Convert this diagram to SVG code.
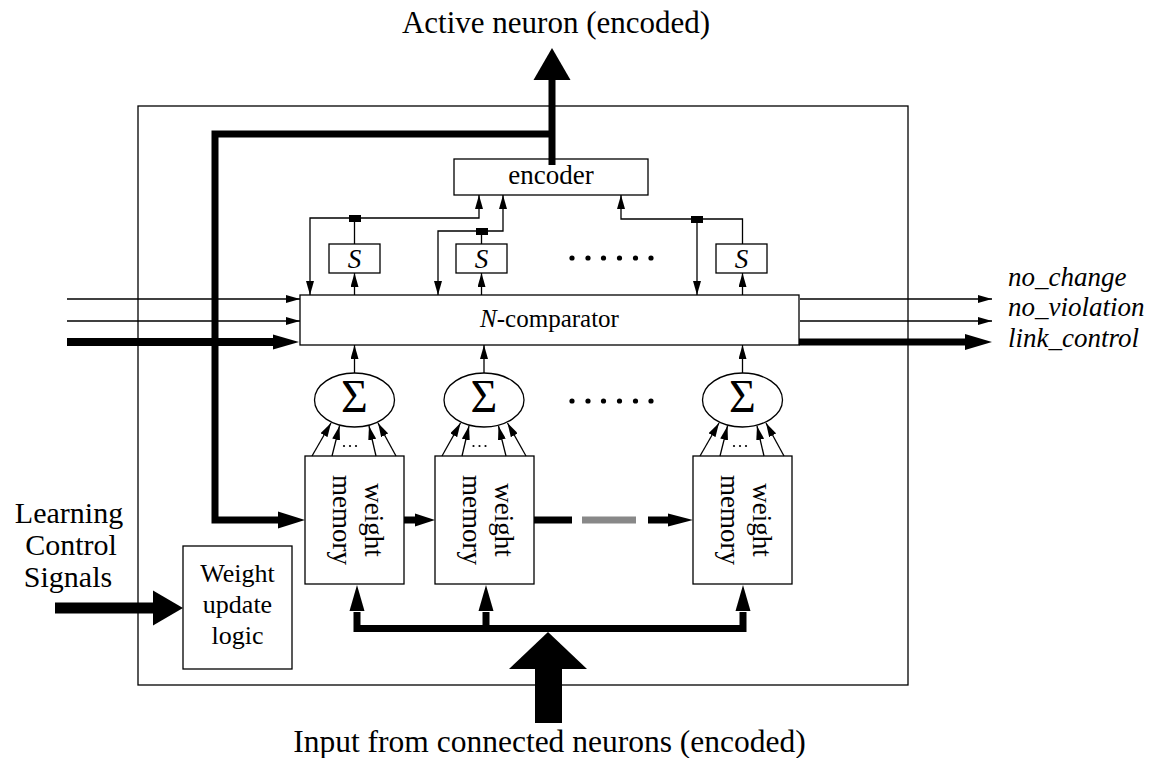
<svg xmlns="http://www.w3.org/2000/svg" width="1174" height="758" viewBox="0 0 1174 758">
<style>
.box{fill:#fff;stroke:#000;stroke-width:1.3}
.frame{fill:none;stroke:#000;stroke-width:1.3}
.thin{fill:none;stroke:#000;stroke-width:1.3}
.thick{fill:none;stroke:#000;stroke-width:7;stroke-linejoin:miter;stroke-linecap:butt}
.head{fill:#000;stroke:none}
.t{font-family:"Liberation Serif","Times New Roman",serif;fill:#000}
.it{font-style:italic}
.dot{fill:#000}
</style>
<defs>
<marker id="a" markerUnits="userSpaceOnUse" markerWidth="14" markerHeight="8" refX="14" refY="4" orient="auto">
<path d="M0,0 L14,4 L0,8 z" fill="#000"/>
</marker>
</defs>

<rect id="outer" class="frame" x="138" y="106" width="770" height="579"/>

<g id="encoder"><rect class="box" x="454" y="159" width="194" height="36"/><text class="t" x="551" y="184" font-size="27" text-anchor="middle">encoder</text></g>
<g id="s1"><rect class="box" x="329" y="244" width="51" height="29"/><text class="t it" x="354.5" y="268" font-size="27" text-anchor="middle">S</text></g>
<g id="s2"><rect class="box" x="456" y="244" width="51" height="29"/><text class="t it" x="481.5" y="268" font-size="27" text-anchor="middle">S</text></g>
<g id="s3"><rect class="box" x="716" y="244" width="51" height="29"/><text class="t it" x="741.5" y="268" font-size="27" text-anchor="middle">S</text></g>
<g id="dots-top"><circle class="dot" cx="572" cy="258" r="2.6"/><circle class="dot" cx="588" cy="258" r="2.6"/><circle class="dot" cx="603.5" cy="258" r="2.6"/><circle class="dot" cx="619.5" cy="258" r="2.6"/><circle class="dot" cx="635.5" cy="258" r="2.6"/><circle class="dot" cx="651" cy="258" r="2.6"/></g>
<g id="comparator"><rect class="box" x="300" y="295" width="499" height="50"/><text class="t" x="549.5" y="327" font-size="25" text-anchor="middle"><tspan class="it">N</tspan>-comparator</text></g>
<g id="sum1"><ellipse class="box" cx="354.5" cy="400" rx="40" ry="27"/><text class="t" x="354.5" y="412" font-size="46" text-anchor="middle">Σ</text></g>
<g id="sum2"><ellipse class="box" cx="484" cy="400" rx="40" ry="27"/><text class="t" x="484" y="412" font-size="46" text-anchor="middle">Σ</text></g>
<g id="sum3"><ellipse class="box" cx="742.5" cy="400" rx="40" ry="27"/><text class="t" x="742.5" y="412" font-size="46" text-anchor="middle">Σ</text></g>
<g id="dots-mid"><circle class="dot" cx="572" cy="401" r="2.6"/><circle class="dot" cx="588" cy="401" r="2.6"/><circle class="dot" cx="603.5" cy="401" r="2.6"/><circle class="dot" cx="619.5" cy="401" r="2.6"/><circle class="dot" cx="635.5" cy="401" r="2.6"/><circle class="dot" cx="651" cy="401" r="2.6"/></g>
<g id="wm1"><rect class="box" x="305" y="456" width="99" height="128"/><g transform="translate(354.5,520) rotate(90)"><text class="t" x="0" y="-10" font-size="27" text-anchor="middle">weight</text><text class="t" x="0" y="22" font-size="27" text-anchor="middle">memory</text></g></g>
<g id="wm2"><rect class="box" x="435" y="456" width="99" height="128"/><g transform="translate(484.5,520) rotate(90)"><text class="t" x="0" y="-10" font-size="27" text-anchor="middle">weight</text><text class="t" x="0" y="22" font-size="27" text-anchor="middle">memory</text></g></g>
<g id="wm3"><rect class="box" x="693" y="456" width="99" height="128"/><g transform="translate(742.5,520) rotate(90)"><text class="t" x="0" y="-10" font-size="27" text-anchor="middle">weight</text><text class="t" x="0" y="22" font-size="27" text-anchor="middle">memory</text></g></g>
<g id="wul"><rect class="box" x="183" y="546" width="109" height="123"/><text class="t" x="237.5" y="582" font-size="26" text-anchor="middle">Weight</text><text class="t" x="237.5" y="613" font-size="26" text-anchor="middle">update</text><text class="t" x="237.5" y="644" font-size="26" text-anchor="middle">logic</text></g>

<g id="connectors">
<path class="thin" d="M67,299 H300" marker-end="url(#a)"/>
<path class="thin" d="M67,321 H300" marker-end="url(#a)"/>
<path class="thin" d="M800,299 H992" marker-end="url(#a)"/>
<path class="thin" d="M800,321 H992" marker-end="url(#a)"/>
<path class="thin" d="M354.5,295 V273" marker-end="url(#a)"/>
<path class="thin" d="M354.5,244 V218"/>
<path class="thin" d="M354.5,218 H310 V295" marker-end="url(#a)"/>
<path class="thin" d="M354.5,218 H479 V195" marker-end="url(#a)"/>
<path class="thin" d="M481.5,295 V273" marker-end="url(#a)"/>
<path class="thin" d="M481.5,244 V231"/>
<path class="thin" d="M481.5,231 H438 V295" marker-end="url(#a)"/>
<path class="thin" d="M481.5,231 H503 V195" marker-end="url(#a)"/>
<path class="thin" d="M742.5,295 V273" marker-end="url(#a)"/>
<path class="thin" d="M742.5,244 V219 H697"/>
<path class="thin" d="M697,219 H621 V195" marker-end="url(#a)"/>
<path class="thin" d="M697,219 V295" marker-end="url(#a)"/>
<rect class="head" x="349" y="215" width="12" height="7"/>
<rect class="head" x="476" y="228" width="12" height="7"/>
<rect class="head" x="691" y="216" width="12" height="7"/>
<path class="thin" d="M354.5,373 V345" marker-end="url(#a)"/>
<path class="thin" d="M484,373 V345" marker-end="url(#a)"/>
<path class="thin" d="M742.5,373 V345" marker-end="url(#a)"/>
<g id="fan1"><path class="thin" d="M312,456 L331,423" marker-end="url(#a)"/><path class="thin" d="M332,456 L339.5,426" marker-end="url(#a)"/><path class="thin" d="M376,456 L369,426" marker-end="url(#a)"/><path class="thin" d="M396,456 L378,423" marker-end="url(#a)"/><circle class="dot" cx="344" cy="446" r="1.1"/><circle class="dot" cx="350" cy="446" r="1.1"/><circle class="dot" cx="356" cy="446" r="1.1"/></g>
<g id="fan2"><path class="thin" d="M442,456 L460.5,423" marker-end="url(#a)"/><path class="thin" d="M462,456 L469,426" marker-end="url(#a)"/><path class="thin" d="M506,456 L498.5,426" marker-end="url(#a)"/><path class="thin" d="M526,456 L507.5,423" marker-end="url(#a)"/><circle class="dot" cx="473.5" cy="446" r="1.1"/><circle class="dot" cx="479.5" cy="446" r="1.1"/><circle class="dot" cx="485.5" cy="446" r="1.1"/></g>
<g id="fan3"><path class="thin" d="M700,456 L719,423" marker-end="url(#a)"/><path class="thin" d="M720,456 L727.5,426" marker-end="url(#a)"/><path class="thin" d="M764,456 L757,426" marker-end="url(#a)"/><path class="thin" d="M784,456 L766,423" marker-end="url(#a)"/><circle class="dot" cx="734" cy="446" r="1.1"/><circle class="dot" cx="740" cy="446" r="1.1"/><circle class="dot" cx="746" cy="446" r="1.1"/></g>

<path class="thick" d="M552,165 V79"/>
<polygon class="head" points="533.5,80 570.5,80 552,48"/>
<path class="thick" d="M552,134 H215 V520 H280"/>
<polygon class="head" points="278,511.5 305,520 278,528.5"/>
<path class="thick" d="M404,520 H417"/>
<polygon class="head" points="415,513.5 435,520 415,526.5"/>
<path class="thick" d="M534,520 H572"/>
<path class="thick" d="M582,520 H636" style="stroke:#888"/>
<path class="thick" d="M648,520 H670"/>
<polygon class="head" points="668,513.5 693,520 668,526.5"/>
<path class="thick" d="M67,342 H275" style="stroke-width:8"/>
<polygon class="head" points="273,334.5 299,342 273,349.5"/>
<path class="thick" d="M799,342 H967"/>
<polygon class="head" points="965,334 992,342 965,350"/>
<path class="thick" d="M55,608 H155" style="stroke-width:11"/>
<polygon class="head" points="153,590.5 183,608 153,625.5"/>
<path class="thick" d="M357,612 V628.5 H743 V612"/>
<path class="thick" d="M486,628.5 V612"/>
<polygon class="head" points="349.5,611 364.5,611 357,585"/>
<polygon class="head" points="478.5,611 493.5,611 486,585"/>
<polygon class="head" points="735.5,611 750.5,611 743,585"/>
<polygon class="head" points="509,669 587,669 548,632"/>
<rect class="head" x="535" y="668" width="27" height="55"/>
</g>

<text class="t" x="556" y="33" font-size="31" text-anchor="middle">Active neuron (encoded)</text>
<text class="t" x="549.5" y="752" font-size="31.5" text-anchor="middle">Input from connected neurons (encoded)</text>
<text class="t it" x="1008" y="286" font-size="27">no_change</text>
<text class="t it" x="1008" y="316" font-size="27">no_violation</text>
<text class="t it" x="1008" y="347" font-size="27">link_control</text>
<text class="t" x="69" y="523" font-size="30" text-anchor="middle">Learning</text>
<text class="t" x="71" y="555" font-size="30" text-anchor="middle">Control</text>
<text class="t" x="68" y="587" font-size="30" text-anchor="middle">Signals</text>
</svg>
